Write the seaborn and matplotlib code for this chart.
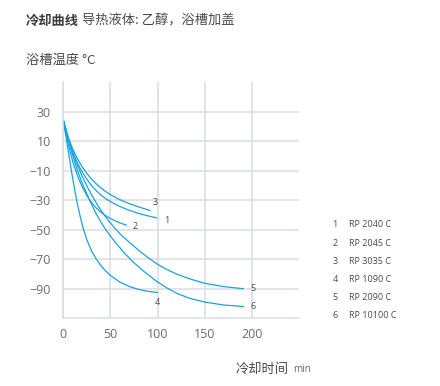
import matplotlib
matplotlib.use("Agg")
import matplotlib.pyplot as plt
import pandas as pd
import seaborn as sns

# data (time in min, bath temperature in °C)
models = ["RP 2040 C", "RP 2045 C", "RP 3035 C", "RP 1090 C", "RP 2090 C", "RP 10100 C"]

t1 = [0, 5, 10, 15, 20, 25, 30, 35, 40, 45, 50, 60, 70, 80, 90, 99]
y1 = [24, 12, 2.5, -5, -11, -16, -20.2, -23.7, -26.6, -29, -31, -34.3, -36.9, -39, -40.7, -42]

t2 = [0, 5, 10, 15, 20, 25, 30, 35, 40, 45, 50, 55, 60, 67]
y2 = [24, 8, -4, -13.5, -21, -27, -31.7, -35.4, -38.3, -40.6, -42.4, -44, -45.4, -47]

t3 = [0, 5, 10, 15, 20, 25, 30, 35, 40, 45, 50, 60, 70, 80, 92]
y3 = [24, 13, 4.5, -2, -7.5, -12, -15.8, -19, -21.8, -24.2, -26.3, -29.7, -32.4, -34.6, -37]

t4 = [0, 3, 6, 9, 12, 15, 18, 21, 25, 30, 35, 40, 45, 50, 60, 70, 80, 90, 100]
y4 = [24, 12, 0, -12, -23, -33, -41.5, -49, -57, -64.5, -70, -74.5, -78, -81, -85.5, -88.5, -90.5, -91.8, -92.5]

t5 = [0, 5, 10, 15, 20, 25, 30, 35, 40, 45, 50, 56, 62, 70, 80, 90, 100, 110, 120, 135, 150, 170, 191]
y5 = [24, 12, 2, -6.5, -14, -20.5, -26.5, -32, -37, -41.5, -45.5, -50, -54, -58.5, -64, -69, -73.5,
      -77, -80, -83.5, -86.3, -88.5, -90]

t6 = [0, 5, 10, 15, 20, 25, 30, 35, 40, 46, 55, 65, 75, 85, 99, 110, 120, 134, 150, 170, 191]
y6 = [24, 11, 0, -10, -18.5, -26, -33, -39.5, -45, -51, -58.5, -66, -72.5, -78, -85, -89.5, -93,
      -96.5, -99, -101, -102]

x_ticks = [0, 50, 100, 150, 200]
y_ticks = [30, 10, -10, -30, -50, -70, -90]

# label offsets (points) from the end of each curve
label_offsets = [(7, -2), (6, -1), (4, 6), (0, -7), (7, 0), (7, 0)]

LINE = "#1aa3dd"
GRID = "#d9dde2"
TEXT = "#4a4a4a"
TICK = "#6b6b6b"


def main():
    sns.set_theme(style="whitegrid")
    plt.rcParams["font.family"] = ["Noto Sans CJK SC", "DejaVu Sans"]
    plt.rcParams["axes.unicode_minus"] = True

    times = [t1, t2, t3, t4, t5, t6]
    temps = [y1, y2, y3, y4, y5, y6]
    frames = []
    for i, (t, y) in enumerate(zip(times, temps)):
        frames.append(pd.DataFrame({"time": t, "temp": y, "curve": str(i + 1)}))
    df = pd.concat(frames, ignore_index=True)

    fig = plt.figure(figsize=(4.4, 3.86), dpi=100)
    ax = fig.add_axes([0.144, 0.1754, 0.5356, 0.6122])

    sns.lineplot(data=df, x="time", y="temp", hue="curve", units="curve",
                 estimator=None, sort=False, palette=[LINE] * 6,
                 linewidth=0.9, legend=False, ax=ax)

    ax.set_xlim(0, 250)
    ax.set_ylim(-110, 50)
    ax.set_xticks(x_ticks)
    ax.set_yticks(y_ticks)
    ax.set_xticklabels([str(v) for v in x_ticks])
    ax.set_yticklabels([str(v).replace("-", "\u2212") for v in y_ticks])
    ax.set_xlabel("")
    ax.set_ylabel("")
    ax.grid(True, color=GRID, linewidth=1.1)
    ax.set_axisbelow(True)
    for side in ["top", "right"]:
        ax.spines[side].set_visible(False)
    for side in ["left", "bottom"]:
        ax.spines[side].set_color(GRID)
        ax.spines[side].set_linewidth(1.1)
    ax.tick_params(axis="both", length=0, labelsize=9, labelcolor=TICK)
    ax.tick_params(axis="y", pad=9)
    ax.tick_params(axis="x", pad=7)
    for lab in ax.get_xticklabels() + ax.get_yticklabels():
        lab.set_family(["Open Sans", "DejaVu Sans"])

    # curve numbers at the curve ends
    for i, (t, y) in enumerate(zip(times, temps)):
        dx, dy = label_offsets[i]
        ax.annotate(str(i + 1), (t[-1], y[-1]), xytext=(dx, dy),
                    textcoords="offset points", fontsize=6.5, color=TEXT,
                    ha="center", va="center", family=["Open Sans", "DejaVu Sans"])

    # legend list on the right
    W, H = 440, 386
    legend_y = [225, 243.3, 261.7, 279.3, 297.3, 316]
    for i, name in enumerate(models):
        fig.text(335 / W, 1 - legend_y[i] / H, str(i + 1), fontsize=6.5,
                 color=TEXT, ha="center", va="center", family=["Open Sans", "DejaVu Sans"])
        fig.text(349 / W, 1 - legend_y[i] / H, name, fontsize=6.5,
                 color=TEXT, ha="left", va="center", family=["Open Sans", "DejaVu Sans"])

    # titles
    fig.text(26 / W, 1 - 20.5 / H, "冷却曲线", fontsize=9.5, fontweight="bold",
             color="#3c3c3c", ha="left", va="center")
    fig.text(82 / W, 1 - 20.5 / H, "导热液体: 乙醇，浴槽加盖", fontsize=9.5,
             color=TEXT, ha="left", va="center")
    fig.text(26 / W, 1 - 60.5 / H, "浴槽温度 °C", fontsize=9.5,
             color=TEXT, ha="left", va="center")
    fig.text(236 / W, 1 - 369 / H, "冷却时间", fontsize=9.5,
             color=TEXT, ha="left", va="center")
    fig.text(293 / W, 1 - 370 / H, "min", fontsize=7,
             color=TICK, ha="left", va="center", family=["Open Sans", "DejaVu Sans"])

    fig.savefig("out.png", dpi=100, facecolor="white")
    plt.close(fig)


if __name__ == "__main__":
    main()
